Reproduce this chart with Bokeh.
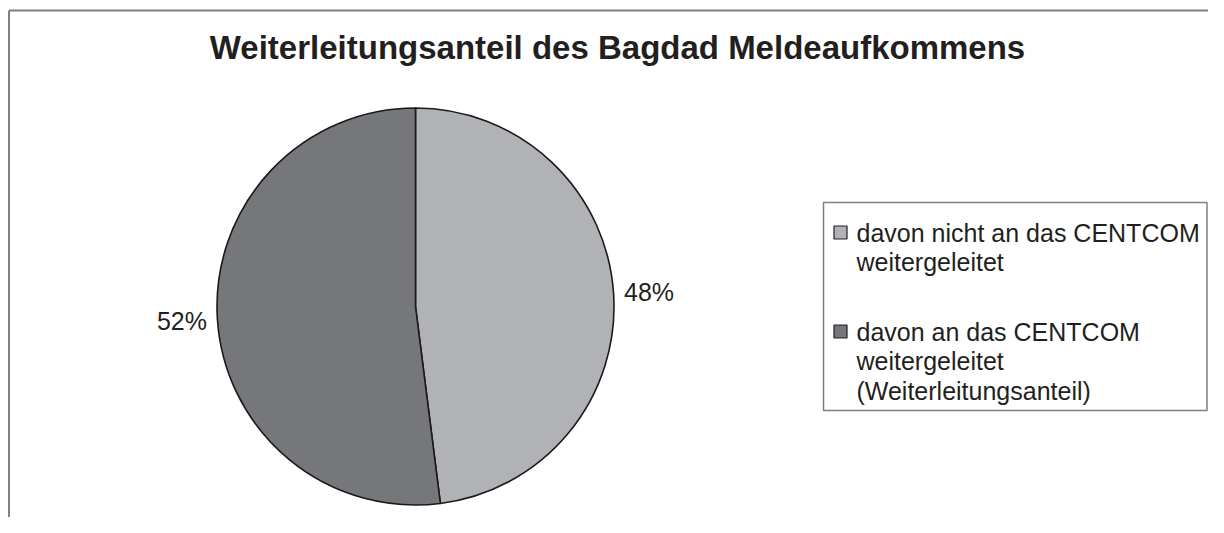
import math
from bokeh.plotting import figure
from bokeh.models import Range1d, ColumnDataSource
from bokeh.core.properties import value
from bokeh.embed import file_html
from bokeh.resources import INLINE

title_text = "Weiterleitungsanteil des Bagdad Meldeaufkommens"
categories = ["davon nicht an das CENTCOM weitergeleitet",
              "davon an das CENTCOM weitergeleitet (Weiterleitungsanteil)"]
legend_lines = [["davon nicht an das CENTCOM", "weitergeleitet"],
                ["davon an das CENTCOM", "weitergeleitet", "(Weiterleitungsanteil)"]]
values = [48, 52]
colors = ["#b1b2b6", "#76777b"]

W, H = 1208, 517
FONT = "Liberation Sans"
TXT = "#231f20"

def fy(py):
    return H - py

def fx(px):
    return px

p = figure(width=W, height=H, output_backend="svg", toolbar_location=None,
           x_range=Range1d(0, W), y_range=Range1d(0, H), min_border=0)
p.axis.visible = False
p.grid.visible = False
p.outline_line_color = None
p.background_fill_color = "white"

# frame (left and top edges visible)
p.segment(x0=[fx(8.5), fx(8.5)], y0=[0, fy(10)], x1=[fx(8.5), W], y1=[fy(10), fy(10)],
          line_color="#808080", line_width=2)

# title
p.text(x=[fx(617)], y=[fy(47)], text=[title_text], text_font=value(FONT),
       text_font_size="33px", text_font_style="bold", text_color=TXT,
       text_align="center", text_baseline="middle")

# pie
cx, cy, r = fx(415), fy(306), 198.5
total = sum(values)
starts, ends, mids = [], [], []
acc = 0.0
for v in values:
    a0 = math.pi / 2 - 2 * math.pi * acc / total
    acc += v
    a1 = math.pi / 2 - 2 * math.pi * acc / total
    starts.append(a0)
    ends.append(a1)
    mids.append((a0 + a1) / 2)

src = ColumnDataSource(dict(start=starts, end=ends, color=colors, cat=categories))
p.wedge(x=cx, y=cy, radius=r, start_angle="start", end_angle="end",
        direction="clock", fill_color="color", line_color="#1a1a1a",
        line_width=1.6, source=src)

# percentage labels
r_lab = 234
lx = [cx + r_lab * math.cos(m) for m in mids]
ly = [cy + r_lab * math.sin(m) for m in mids]
p.text(x=lx, y=ly, text=[f"{v}%" for v in values], text_font=value(FONT),
       text_font_size="25px", text_color=TXT, text_align="center",
       text_baseline="middle")

# legend box
bx0, bx1, by0, by1 = fx(823), W - 1.5, fy(202), fy(410)
p.quad(left=[bx0], right=[bx1], top=[by0], bottom=[by1], fill_color="white",
       line_color="#7f7f7f", line_width=1.5)

item_top = [232, 331]
line_h = 29.5
sq = 13
for i, lines in enumerate(legend_lines):
    y0 = item_top[i]
    p.rect(x=[fx(840)], y=[fy(y0)], width=sq, height=sq, fill_color=colors[i],
           line_color="#231f20", line_width=1.2)
    ys = [fy(y0 + k * line_h) for k in range(len(lines))]
    p.text(x=[fx(856)] * len(lines), y=ys, text=lines, text_font=value(FONT),
           text_font_size="25px", text_color=TXT, text_align="left",
           text_baseline="middle")

open("out.html", "w").write(file_html(p, INLINE))
